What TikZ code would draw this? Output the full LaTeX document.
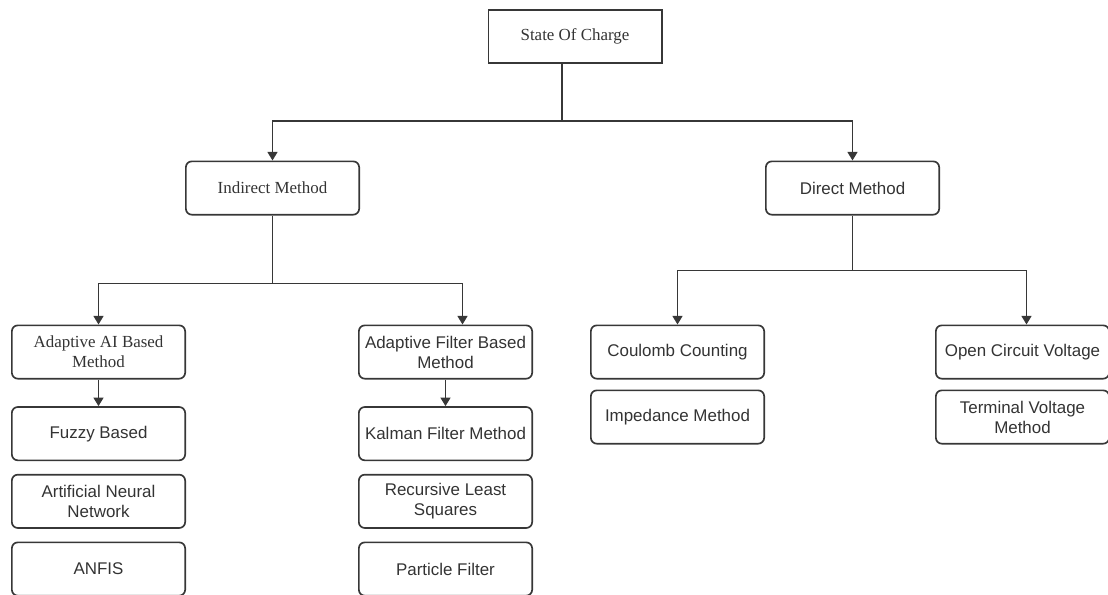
\documentclass[tikz,border=0pt]{standalone}
\usepackage{fontspec}
\setmainfont{Liberation Sans}
\newfontfamily\timesfont{Liberation Serif}
\usetikzlibrary{arrows.meta,positioning}
\definecolor{ink}{RGB}{51,51,51}
\definecolor{edge}{RGB}{55,55,55}

\begin{document}
\begin{tikzpicture}[
  x=0.75pt,y=-0.75pt,
  node distance=9.5pt,
  box/.style={draw=edge,line width=1.25pt,rounded corners=4.5pt,align=center,text=ink,font=\fontsize{12.7}{15}\selectfont,minimum width=130pt,minimum height=40pt,inner sep=1pt},
  serif/.style={font=\timesfont\fontsize{12.7}{15}\selectfont},
  ar/.style={draw=edge,line width=1.25pt,-{Triangle[length=6.5pt,width=7.5pt]}},
  ln/.style={draw=edge,line width=1.25pt}
]
\useasboundingbox (0,0) rectangle (1108,594);
\clip (0,0) rectangle (1108,594);
% top levels
\node[box,serif,sharp corners] (soc) at (575,36.5) {State Of Charge};
\node[box,serif] (ind) at (272.5,188) {Indirect Method};
\node[box] (dir) at (852.5,188) {Direct Method};
% indirect branch
\node[box,serif] (ai) at (98.5,352) {Adaptive AI Based\\Method};
\node[box,below=20pt of ai] (fuz) {Fuzzy Based};
\node[box,below=of fuz] (ann) {Artificial Neural\\Network};
\node[box,below=of ann] (anf) {ANFIS};
\node[box] (flt) at (445.5,352) {Adaptive Filter Based\\Method};
\node[box,below=20pt of flt] (kal) {Kalman Filter Method};
\node[box,below=of kal] (rls) {Recursive Least\\Squares};
\node[box,below=of rls] (par) {Particle Filter};
% direct branch
\node[box] (cou) at (677.5,352) {Coulomb Counting};
\node[box,below=7.5pt of cou] (imp) {Impedance Method};
\node[box] (ocv) at (1022.5,352) {Open Circuit Voltage};
\node[box,below=7.5pt of ocv] (tvm) {Terminal Voltage\\Method};
% connectors
\draw[ln] ([xshift=-9.75pt]soc.south) -- ++(0,57) coordinate (j0);
\draw[ar] (j0) -| (ind.north); \draw[ar] (j0) -| (dir.north);
\draw[ln] (ind.south) -- ++(0,68) coordinate (j1);
\draw[ar] (j1) -| (ai.north); \draw[ar] (j1) -| ([xshift=12.75pt]flt.north);
\draw[ar] (ai) -- (fuz); \draw[ar] (flt) -- (kal);
\draw[ln] (dir.south) -- ++(0,55) coordinate (j2);
\draw[ar] (j2) -| (cou.north); \draw[ar] (j2) -| ([xshift=3pt]ocv.north);
\end{tikzpicture}
\end{document}
